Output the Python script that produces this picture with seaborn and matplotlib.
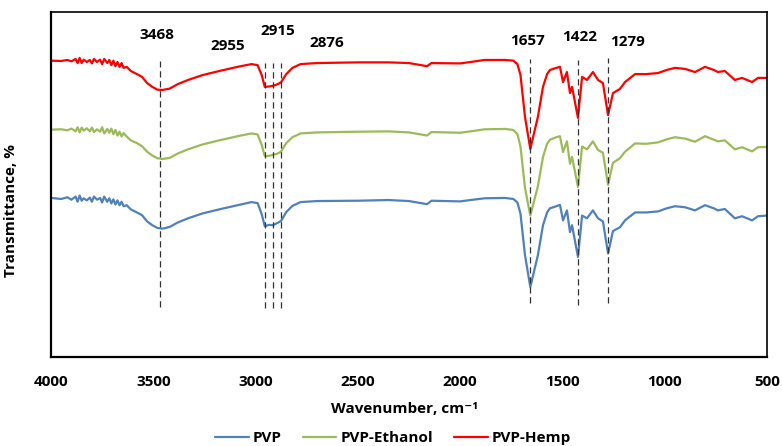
import matplotlib
matplotlib.use("Agg")
import matplotlib.pyplot as plt
import seaborn as sns
import pandas as pd

# FTIR spectra (transmittance in arbitrary %, stacked)
wavenumber = [4000, 3950, 3920, 3900, 3880, 3870, 3860, 3850, 3840, 3825,
              3810, 3800, 3790, 3775, 3760, 3750, 3740, 3725, 3715, 3705,
              3695, 3685, 3675, 3665, 3655, 3645, 3630, 3610, 3580, 3555,
              3530, 3505, 3480, 3455, 3420, 3380, 3330, 3260, 3170, 3080,
              3020, 2990, 2970, 2955, 2935, 2915, 2895, 2876, 2850, 2820,
              2780, 2700, 2500, 2350, 2250, 2162, 2140, 2000, 1950, 1880,
              1780, 1740, 1720, 1705, 1683, 1657, 1620, 1595, 1575, 1561,
              1530, 1512, 1497, 1478, 1463, 1453, 1424, 1404, 1380, 1351,
              1326, 1302, 1277, 1253, 1219, 1194, 1145, 1090, 1033, 990,
              950, 900, 852, 803, 760, 740, 706, 657, 622, 573, 544, 500]

pvp_hemp = [85.9, 85.8, 86.1, 85.7, 86.4, 85.2, 86.7, 85.2, 86.2, 85.5,
            86.1, 85.1, 86.4, 85.5, 86.2, 84.9, 86.4, 85.2, 86.1, 84.6,
            85.9, 84.3, 85.5, 84.1, 85.2, 83.8, 84.1, 82.9, 82.0, 81.2,
            79.4, 78.3, 77.5, 77.4, 77.8, 79.1, 80.3, 81.7, 83.0, 84.2,
            84.9, 84.6, 81.7, 78.3, 78.4, 78.6, 79.0, 79.6, 82.0, 83.8,
            84.9, 85.2, 85.4, 85.4, 85.2, 84.3, 85.2, 85.1, 85.5, 86.1,
            86.1, 85.9, 84.9, 81.7, 69.6, 60.3, 69.6, 78.3, 82.0, 83.2,
            83.8, 84.1, 79.7, 82.6, 76.5, 78.3, 69.3, 81.2, 80.3, 82.6,
            80.3, 79.4, 70.1, 76.5, 77.7, 79.7, 82.0, 82.0, 82.3, 83.2,
            83.8, 83.5, 82.6, 84.1, 83.2, 82.6, 82.9, 80.3, 80.9, 79.7, 80.9, 80.9]

pvp_ethanol = [65.9, 66.0, 65.7, 66.2, 65.4, 66.6, 65.1, 66.5, 65.6, 66.3,
               65.4, 66.5, 65.2, 66.0, 65.3, 66.6, 64.8, 66.1, 65.0, 66.2,
               64.6, 65.8, 64.2, 65.3, 63.9, 64.9, 63.9, 62.8, 62.0, 61.1,
               59.5, 58.4, 57.6, 57.4, 57.7, 59.0, 60.2, 61.6, 62.9, 64.1,
               64.8, 64.5, 61.5, 58.2, 58.3, 58.6, 58.9, 59.5, 62.0, 63.7,
               64.8, 65.1, 65.3, 65.4, 65.1, 64.2, 65.2, 65.0, 65.4, 66.0,
               66.1, 65.8, 64.6, 61.0, 49.0, 41.0, 49.5, 58.0, 61.8, 63.0,
               63.7, 64.0, 59.4, 62.5, 56.0, 58.0, 49.3, 61.0, 60.2, 62.5,
               60.0, 59.2, 49.9, 56.3, 57.6, 59.5, 61.9, 61.8, 62.2, 63.1,
               63.7, 63.3, 62.4, 64.0, 63.0, 62.5, 62.8, 60.2, 60.8, 59.6, 60.8, 60.9]

pvp = [46.1, 45.8, 46.3, 45.6, 46.5, 45.0, 46.8, 45.3, 46.0, 45.4,
       46.2, 45.0, 46.5, 45.6, 46.1, 44.8, 46.5, 45.0, 46.0, 44.5,
       45.7, 44.2, 45.4, 44.0, 45.0, 43.7, 44.0, 42.8, 41.9, 41.1,
       39.3, 38.2, 37.4, 37.2, 37.7, 39.0, 40.2, 41.6, 42.9, 44.1,
       44.9, 44.6, 41.4, 37.9, 38.3, 38.2, 38.8, 39.4, 42.0, 43.8,
       44.9, 45.2, 45.3, 45.5, 45.2, 44.3, 45.3, 45.1, 45.5, 46.0,
       46.1, 45.8, 44.8, 41.5, 29.5, 20.3, 29.5, 38.2, 41.9, 43.1,
       43.7, 44.1, 39.6, 42.5, 36.2, 38.2, 29.0, 41.0, 40.2, 42.5,
       40.2, 39.3, 30.0, 36.5, 37.6, 39.6, 41.9, 41.9, 42.2, 43.1,
       43.7, 43.4, 42.5, 44.0, 43.1, 42.5, 42.9, 40.2, 40.8, 39.6, 40.8, 41.0]

sample_names = ['PVP', 'PVP-Ethanol', 'PVP-Hemp']
sample_colors = ['#4F81BD', '#9BBB59', '#FF0000']

peaks = [3468, 2955, 2915, 2876, 1657, 1422, 1279]

# where the peak labels and marker lines sit
peak_text_x = [3482, 3135, 2890, 2651, 1673, 1414, 1184]
peak_text_y = [93.3, 90.1, 94.5, 91.0, 91.6, 92.8, 91.3]
line_top = [85.8, 85.2, 85.2, 85.2, 86.4, 86.1, 86.7]
line_bottom = [14.5, 14.2, 14.2, 14.2, 15.7, 15.1, 15.7]

df = pd.concat([
    pd.DataFrame({'wavenumber': wavenumber, 'T': vals, 'sample': name})
    for name, vals in zip(sample_names, [pvp, pvp_ethanol, pvp_hemp])
])

sns.set_style('white')
plt.rcParams['font.family'] = ['Open Sans', 'DejaVu Sans']
plt.rcParams['text.color'] = 'black'
plt.rcParams['axes.labelcolor'] = 'black'
plt.rcParams['xtick.color'] = 'black'
fsize = 11

fig = plt.figure(figsize=(7.82, 4.46), dpi=100)
ax = fig.add_axes([51/782, 1-357/446, 716/782, 345/446])

sns.lineplot(data=df, x='wavenumber', y='T', hue='sample', hue_order=sample_names,
             palette=sample_colors, estimator=None, sort=True, linewidth=1.6, ax=ax)

ax.vlines(peaks, line_bottom, line_top, colors='#333333', linestyles=(0, (5, 3)), linewidth=0.9)
for px, ty, lab in zip(peak_text_x, peak_text_y, peaks):
    ax.text(px, ty, str(lab), ha='center', va='center', fontsize=fsize, fontweight='bold')

ax.set_xlim(4000, 500)
ax.set_ylim(0, 100)
ax.set_xticks(range(4000, 499, -500))
ax.set_yticks([])
ax.tick_params(axis='x', length=0, pad=13, labelsize=fsize)
for t in ax.get_xticklabels():
    t.set_fontweight('bold')

ax.set_xlabel('Wavenumber, cm⁻¹', fontsize=fsize, fontweight='bold')
ax.xaxis.set_label_coords(0.494, -0.13)
ax.set_ylabel('Transmittance, %', fontsize=fsize, fontweight='bold')
ax.yaxis.set_label_coords(-0.046, 0.426)

for side in ['top', 'right', 'left', 'bottom']:
    ax.spines[side].set_visible(True)
    ax.spines[side].set_color('black')
    ax.spines[side].set_linewidth(1.2 if side in ['top', 'right'] else 1.6)
    ax.spines[side].set_zorder(5)

handles, labels = ax.get_legend_handles_labels()
ax.get_legend().remove()
fig.legend(handles, labels, loc='center', bbox_to_anchor=(393/782, 1-438/446), ncol=3,
           frameon=False, handlelength=2.2, handletextpad=0.25, columnspacing=1.4,
           prop={'weight': 'bold', 'size': fsize})

fig.savefig('out.png', dpi=100)
